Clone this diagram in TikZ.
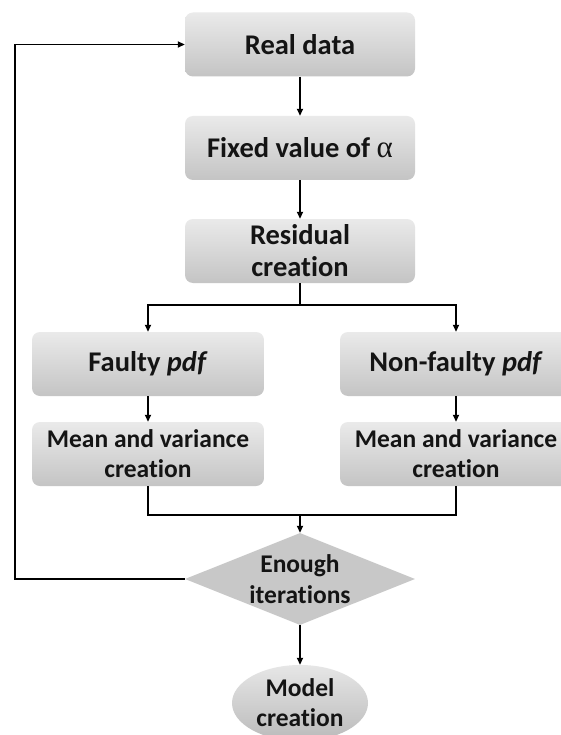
\documentclass[tikz,border=0pt]{standalone}
\usepackage{fontspec}
\setmainfont{Carlito}[Ligatures={NoCommon}]
\newfontfamily\greekfont{Liberation Serif}
\usetikzlibrary{shapes.geometric,arrows.meta}
\definecolor{boxtop}{RGB}{234,234,234}
\definecolor{boxbot}{RGB}{196,196,196}
\definecolor{diamfill}{RGB}{200,200,200}
\definecolor{txt}{RGB}{20,20,20}
\tikzset{
  procbox/.style={rectangle, rounded corners=8pt, minimum width=230pt, minimum height=64pt,
    top color=boxtop, bottom color=boxbot, draw=none, align=center, inner sep=2pt, text=txt,
    font=\bfseries\fontsize{28.5}{32}\selectfont},
  smallbox/.style={procbox, font=\bfseries\fontsize{25.5}{30}\selectfont},
  decision/.style={diamond, minimum width=230pt, minimum height=92pt, aspect=2.5, inner sep=0pt,
    fill=diamfill, draw=none, align=center, text=txt, font=\bfseries\fontsize{25.5}{31}\selectfont},
  terminal/.style={ellipse, minimum width=136pt, minimum height=76pt, inner sep=0pt,
    top color=boxtop!90!boxbot, bottom color=boxbot!95!black, draw=none, align=center, text=txt,
    font=\bfseries\fontsize{25.5}{30}\selectfont},
  conn/.style={line width=1.8pt, -{Triangle[length=7pt,width=6pt]}},
  plain/.style={line width=1.8pt}
}
\begin{document}
\begin{tikzpicture}[x=1pt,y=-1pt]
\useasboundingbox (0,0) rectangle (561,735);
\clip (0,0) rectangle (561,735);
\fill[white] (0,0) rectangle (561,735);
\node[procbox] (real) at (300,44.5) {Real data};
\node[procbox] (fixed) at (300,148) {Fixed value of {\greekfont\mdseries\fontsize{31}{32}\selectfont α}};
\node[procbox] (resid) at (300,251) {Residual\\creation};
\node[procbox, minimum width=232pt] (faulty) at (148,364) {Faulty \textit{pdf}};
\node[procbox, minimum width=232pt] (nonfaulty) at (456,364) {Non-faulty \textit{pdf}};
\node[smallbox, minimum width=232pt] (meanL) at (148,454) {Mean and variance\\creation};
\node[smallbox, minimum width=232pt] (meanR) at (456,454) {Mean and variance\\creation};
\node[decision] (enough) at (300,579) {Enough\\iterations};
\node[terminal] (model) at (300,703) {Model\\creation};
\coordinate (split) at (300,305);
\coordinate (join) at (300,515);
\coordinate (loopB) at (15,579);
\coordinate (loopT) at (15,44.5);
\draw[conn] (real) -- (fixed);
\draw[conn] (fixed) -- (resid);
\draw[plain] (resid.south) -- (split);
\draw[conn] (split) -| (faulty.north);
\draw[conn] (split) -| (nonfaulty.north);
\draw[conn] (faulty) -- (meanL);
\draw[conn] (nonfaulty) -- (meanR);
\draw[plain] (meanL.south) |- (join);
\draw[plain] (meanR.south) |- (join);
\draw[conn] (join) -- (enough.north);
\draw[conn] (enough.south) -- (model.north);
\draw[conn] (enough.west) -- (loopB) -- (loopT) -- (real.west);
\end{tikzpicture}
\end{document}
